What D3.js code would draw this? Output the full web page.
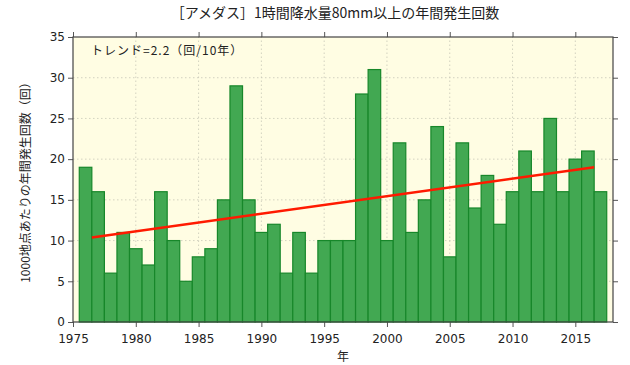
<!DOCTYPE html>
<html>
<head>
<meta charset="utf-8">
<script src="https://cdn.jsdelivr.net/npm/d3@7"></script>
<style>
  body { margin: 0; background: #fff; }
  text { font-family: "DejaVu Sans", sans-serif; }
  .jp { font-family: "Noto Sans CJK JP", sans-serif; }
</style>
</head>
<body>
<script>
// data
var years = d3.range(1976, 2018);
var counts = [19, 16, 6, 11, 9, 7, 16, 10, 5, 8,
              9, 15, 29, 15, 11, 12, 6, 11, 6, 10,
              10, 10, 28, 31, 10, 22, 11, 15, 24, 8,
              22, 14, 18, 12, 16, 21, 16, 25, 16, 20,
              21, 16];
var xTicks = [1975, 1980, 1985, 1990, 1995, 2000, 2005, 2010, 2015];
var yTicks = [0, 5, 10, 15, 20, 25, 30, 35];

var W = 630, H = 365;
var margin = {top: 37, right: 17, bottom: 43, left: 73};

var svg = d3.select("body").append("svg")
    .attr("width", W)
    .attr("height", H);

var x = d3.scaleLinear().domain([1975, 2018]).range([margin.left, W - margin.right]);
var y = d3.scaleLinear().domain([0, 35]).range([H - margin.bottom, margin.top]);

//background
svg.append("rect")
    .attr("x", x(1975)).attr("y", y(35))
    .attr("width", x(2018) - x(1975)).attr("height", y(0) - y(35))
    .attr("fill", "#fffde3");

//grid
svg.append("g").selectAll("line").data(yTicks.slice(1, -1)).enter().append("line")
    .attr("x1", x(1975)).attr("x2", x(2018))
    .attr("y1", function(d) { return y(d); }).attr("y2", function(d) { return y(d); })
    .attr("stroke", "#c8c8b8").attr("stroke-width", 0.8).attr("stroke-dasharray", "1.5,2.5");
svg.append("g").selectAll("line").data(xTicks.slice(1)).enter().append("line")
    .attr("y1", y(0)).attr("y2", y(35))
    .attr("x1", function(d) { return x(d); }).attr("x2", function(d) { return x(d); })
    .attr("stroke", "#c8c8b8").attr("stroke-width", 0.8).attr("stroke-dasharray", "1.5,2.5");

//bars
svg.append("g").selectAll("rect").data(counts).enter().append("rect")
    .attr("x", function(d, i) { return x(years[i] - 0.5); })
    .attr("y", function(d) { return y(d); })
    .attr("width", x(1) - x(0))
    .attr("height", function(d) { return y(0) - y(d); })
    .attr("fill", "#42a852")
    .attr("stroke", "#17872a")
    .attr("stroke-width", 1.2);

//trend (least squares)
var mx = d3.mean(years), my = d3.mean(counts);
var slope = d3.sum(years, function(d, i) { return (d - mx) * (counts[i] - my); }) /
            d3.sum(years, function(d) { return (d - mx) * (d - mx); });
var trendX = [years[0] + 0.5, years[years.length - 1] - 0.5];
svg.append("path")
    .datum(trendX)
    .attr("d", d3.line()
        .x(function(d) { return x(d); })
        .y(function(d) { return y(my + slope * (d - mx)); }))
    .attr("stroke", "#ff1a00")
    .attr("stroke-width", 2.5)
    .attr("fill", "none");

//axes
var tickLen = 5;
svg.append("g")
    .attr("transform", "translate(0," + y(0) + ")")
    .call(d3.axisBottom(x).tickValues(xTicks).tickFormat(d3.format("d")).tickSize(tickLen).tickSizeOuter(0))
    .call(function(g) { g.select(".domain").remove(); })
    .call(function(g) { g.selectAll("text").attr("font-size", 12).attr("fill", "#222").attr("dy", "1.05em"); });
svg.append("g")
    .attr("transform", "translate(0," + y(35) + ")")
    .call(d3.axisTop(x).tickValues(xTicks).tickFormat("").tickSize(tickLen).tickSizeOuter(0))
    .call(function(g) { g.select(".domain").remove(); });
svg.append("g")
    .attr("transform", "translate(" + x(1975) + ",0)")
    .call(d3.axisLeft(y).tickValues(yTicks).tickSize(tickLen).tickSizeOuter(0))
    .call(function(g) { g.select(".domain").remove(); })
    .call(function(g) { g.selectAll("text").attr("font-size", 12).attr("fill", "#222"); });
svg.append("g")
    .attr("transform", "translate(" + x(2018) + ",0)")
    .call(d3.axisRight(y).tickValues(yTicks).tickFormat("").tickSize(tickLen).tickSizeOuter(0))
    .call(function(g) { g.select(".domain").remove(); });
svg.selectAll(".tick line").attr("stroke", "#555");

//frame
svg.append("rect")
    .attr("x", x(1975)).attr("y", y(35))
    .attr("width", x(2018) - x(1975)).attr("height", y(0) - y(35))
    .attr("fill", "none").attr("stroke", "#444").attr("stroke-width", 1.2);

//texts
svg.append("text").attr("class", "jp")
    .attr("x", 335).attr("y", 18)
    .attr("text-anchor", "middle").attr("font-size", 14).attr("fill", "#222")
    .text("［アメダス］1時間降水量80mm以上の年間発生回数");
svg.append("text").attr("class", "jp")
    .attr("x", x(1975) + 18).attr("y", y(35) + 18)
    .attr("font-size", 12).attr("fill", "#222")
    .attr("letter-spacing", 1)
    .text("トレンド=2.2（回/10年）");
svg.append("text").attr("class", "jp")
    .attr("x", (x(1975) + x(2018)) / 2).attr("y", H - 4)
    .attr("text-anchor", "middle").attr("font-size", 12).attr("fill", "#222")
    .text("年");
svg.append("text").attr("class", "jp")
    .attr("transform", "translate(30," + (y(17.5)) + ") rotate(-90)")
    .attr("text-anchor", "middle").attr("font-size", 12).attr("fill", "#222")
    .text("1000地点あたりの年間発生回数（回）");
</script>
</body>
</html>
